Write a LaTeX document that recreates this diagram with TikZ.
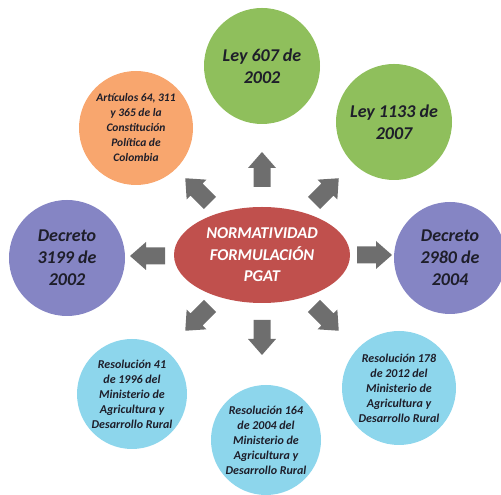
\documentclass[tikz,border=0pt]{standalone}
\usepackage{fontspec}
\setmainfont{Carlito}
\usetikzlibrary{shapes.geometric}
\definecolor{greenc}{HTML}{8FBF5C}
\definecolor{orangec}{HTML}{F8A66E}
\definecolor{purplec}{HTML}{8585C4}
\definecolor{bluec}{HTML}{8DD6EC}
\definecolor{redc}{HTML}{C0504D}
\definecolor{arrowc}{HTML}{6E6E6E}
\definecolor{txt}{HTML}{1E1E2A}
\begin{document}
\begin{tikzpicture}[x=1pt,y=1pt,
  bub/.style={circle, minimum size=#1, inner sep=0pt, align=center, text=txt},
  bigtxt/.style={font=\fontsize{18}{22}\selectfont\bfseries\itshape},
  smalltxt/.style={font=\fontsize{12}{15}\selectfont\bfseries\itshape},
  orangetxt/.style={font=\fontsize{11.5}{15}\selectfont\bfseries\itshape},
  blk/.pic={\fill[arrowc] (0,-8.5) -- (19,-8.5) -- (19,-14) -- (35,0) -- (19,14) -- (19,8.5) -- (0,8.5) -- cycle;}
]
\useasboundingbox (0,0) rectangle (501,495);
\clip (0,0) rectangle (501,495);

\node[ellipse, fill=redc, minimum width=176, minimum height=96, inner sep=0pt, align=center, text=white,
      font=\fontsize{16.5}{21.5}\selectfont\bfseries\itshape] (center) at (262,240)
      {NORMATIVIDAD\\FORMULACIÓN\\PGAT};

\node[bub=116, fill=greenc, bigtxt] (ley607) at (262,429) {Ley 607 de\\2002};
\node[bub=116, fill=greenc, bigtxt] (ley1133) at (394,373) {Ley 1133 de\\2007};
\node[bub=114, fill=orangec, orangetxt] (const) at (136,367) {Artículos 64, 311\\y 365 de la\\Constitución\\Política de\\Colombia};
\node[bub=116, fill=purplec, bigtxt] (dec3199) at (67,237) {Decreto\\3199 de\\2002};
\node[bub=112, fill=purplec, bigtxt] (dec2980) at (450,237) {Decreto\\2980 de\\2004};
\node[bub=110, fill=bluec, smalltxt] (res41) at (132,101) {Resolución 41\\de 1996 del\\Ministerio de\\Agricultura y\\Desarrollo Rural};
\node[bub=110, fill=bluec, smalltxt] (res164) at (266,55) {Resolución 164\\de 2004 del\\Ministerio de\\Agricultura y\\Desarrollo Rural};
\node[bub=114, fill=bluec, smalltxt] (res178) at (399,107) {Resolución 178\\de 2012 del\\Ministerio de\\Agricultura y\\Desarrollo Rural};

\pic[rotate=90] at (262,308) {blk};
\pic[rotate=-90] at (262,175) {blk};
\pic[rotate=180] at (165,239) {blk};
\pic[rotate=0] at (357,240) {blk};
\pic[rotate=135] at (210,292) {blk};
\pic[rotate=45] at (314,292) {blk};
\pic[rotate=225] at (210,189) {blk};
\pic[rotate=-45] at (314,189) {blk};
\end{tikzpicture}
\end{document}
